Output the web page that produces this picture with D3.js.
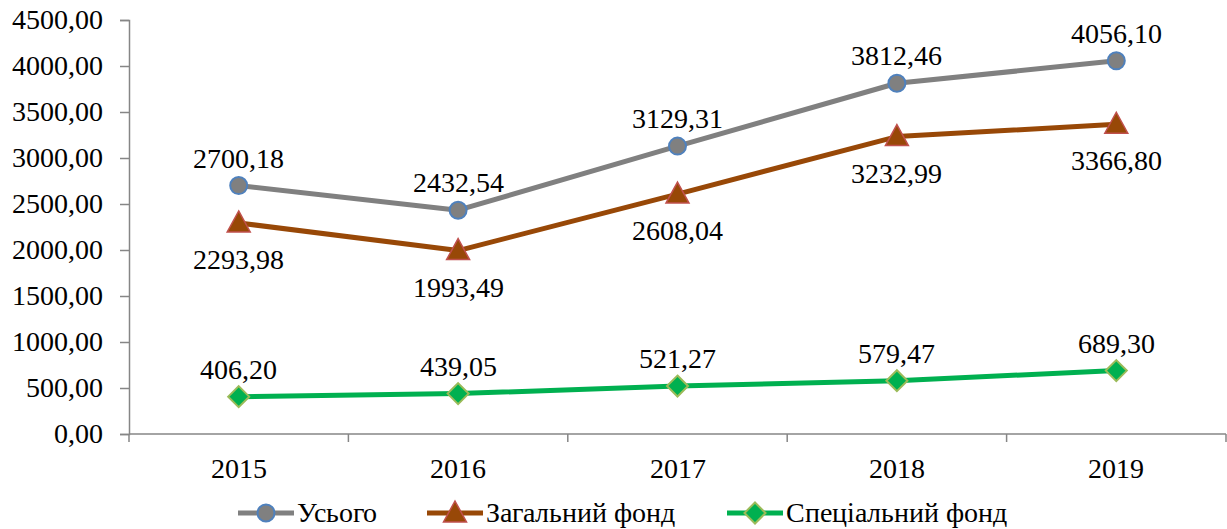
<!DOCTYPE html>
<html>
<head>
<meta charset="utf-8">
<script src="https://cdn.jsdelivr.net/npm/d3@7"></script>
<style>
  @font-face { font-family: "ChartSerif"; src: local("Liberation Serif"), local("LiberationSerif-Regular"), local("Times New Roman"); }
</style>
</head>
<body style="margin:0; background:#fff">
<svg id="chart" width="1227" height="529"></svg>
<script>
var years = ["2015", "2016", "2017", "2018", "2019"];
var total = [2700.18, 2432.54, 3129.31, 3812.46, 4056.10];
var generalFund = [2293.98, 1993.49, 2608.04, 3232.99, 3366.80];
var specialFund = [406.20, 439.05, 521.27, 579.47, 689.30];
var yTicks = [0, 500, 1000, 1500, 2000, 2500, 3000, 3500, 4000, 4500];
var seriesNames = ["Усього", "Загальний фонд", "Спеціальний фонд"];

var FONT = "ChartSerif, Liberation Serif, Times New Roman, DejaVu Serif, serif";
var FS = 28;
var svg = d3.select("#chart");
var fmt = d3.formatLocale({decimal: ",", thousands: "", grouping: [3], currency: ["", ""]}).format(".2f");

var x = d3.scaleBand().domain(years).range([129, 1226]).padding(0);
var y = d3.scaleLinear().domain([0, 4500]).range([434, 20]);
var cx = function (d) { return x(d) + x.bandwidth() / 2; };

function setFont(sel) {
  return sel.attr("font-family", FONT).attr("font-size", FS);
}

// y axis
var yAxis = svg.append("g").attr("transform", "translate(129,0)")
  .call(d3.axisLeft(y).tickValues(yTicks).tickSize(9).tickPadding(17).tickFormat(fmt));
setFont(yAxis);
yAxis.select(".domain").attr("stroke", "#868686").attr("stroke-width", 1.5);
yAxis.selectAll(".tick line").attr("stroke", "#868686").attr("stroke-width", 1.5);
setFont(yAxis.selectAll("text")).attr("fill", "#000");

// x axis with ticks between categories
var xAxis = svg.append("g").attr("transform", "translate(0," + y(0) + ")");
xAxis.append("line").attr("x1", 129).attr("x2", 1226).attr("stroke", "#868686").attr("stroke-width", 1.5);
xAxis.selectAll(".bt").data(years.concat(["end"])).enter().append("line")
  .attr("x1", function (d, i) { return i < years.length ? x(d) : x.range()[1]; })
  .attr("x2", function (d, i) { return i < years.length ? x(d) : x.range()[1]; })
  .attr("y1", 0).attr("y2", 8)
  .attr("stroke", "#868686").attr("stroke-width", 1.5);
setFont(xAxis.selectAll(".lbl").data(years).enter().append("text"))
  .attr("x", cx).attr("y", 44)
  .attr("text-anchor", "middle")
  .text(function (d) { return d; });

function circleMark(g) {
  g.append("circle").attr("r", 8.5).attr("fill", "#808080").attr("stroke", "#4F81BD").attr("stroke-width", 2);
}
function triMark(g) {
  g.append("path").attr("d", "M0,-12L11.5,9L-11.5,9Z").attr("fill", "#984807").attr("stroke", "#C0504D").attr("stroke-width", 1.5);
}
function diaMark(g) {
  g.append("path").attr("d", "M0,-10.5L10.5,0L0,10.5L-10.5,0Z").attr("fill", "#00B050").attr("stroke", "#9BBB59").attr("stroke-width", 2);
}

var series = [
  {name: seriesNames[0], values: total, color: "#808080", marker: circleMark, labelDy: -18},
  {name: seriesNames[1], values: generalFund, color: "#984807", marker: triMark, labelDy: 46},
  {name: seriesNames[2], values: specialFund, color: "#00B050", marker: diaMark, labelDy: -18}
];

var line = d3.line().x(function (d, i) { return cx(years[i]); }).y(function (d) { return y(d); });

series.forEach(function (s) {
  svg.append("path").datum(s.values).attr("d", line)
    .attr("fill", "none").attr("stroke", s.color).attr("stroke-width", 5).attr("stroke-linejoin", "round");
});

series.forEach(function (s) {
  s.values.forEach(function (v, i) {
    var g = svg.append("g").attr("transform", "translate(" + cx(years[i]) + "," + y(v) + ")");
    s.marker(g);
  });
});

series.forEach(function (s) {
  setFont(svg.selectAll(null).data(s.values).enter().append("text"))
    .attr("x", function (d, i) { return cx(years[i]); })
    .attr("y", function (d) { return y(d) + s.labelDy; })
    .attr("text-anchor", "middle")
    .text(function (d) { return fmt(d); });
});

// legend
var legendX = [238, 427, 727];
series.forEach(function (s, i) {
  var g = svg.append("g").attr("transform", "translate(" + legendX[i] + ",513)");
  g.append("line").attr("x1", 0).attr("x2", 56).attr("stroke", s.color).attr("stroke-width", 5);
  var m = g.append("g").attr("transform", "translate(28,0)");
  s.marker(m);
  setFont(g.append("text")).attr("x", 59).attr("y", 9).text(s.name);
});
</script>
</body>
</html>
